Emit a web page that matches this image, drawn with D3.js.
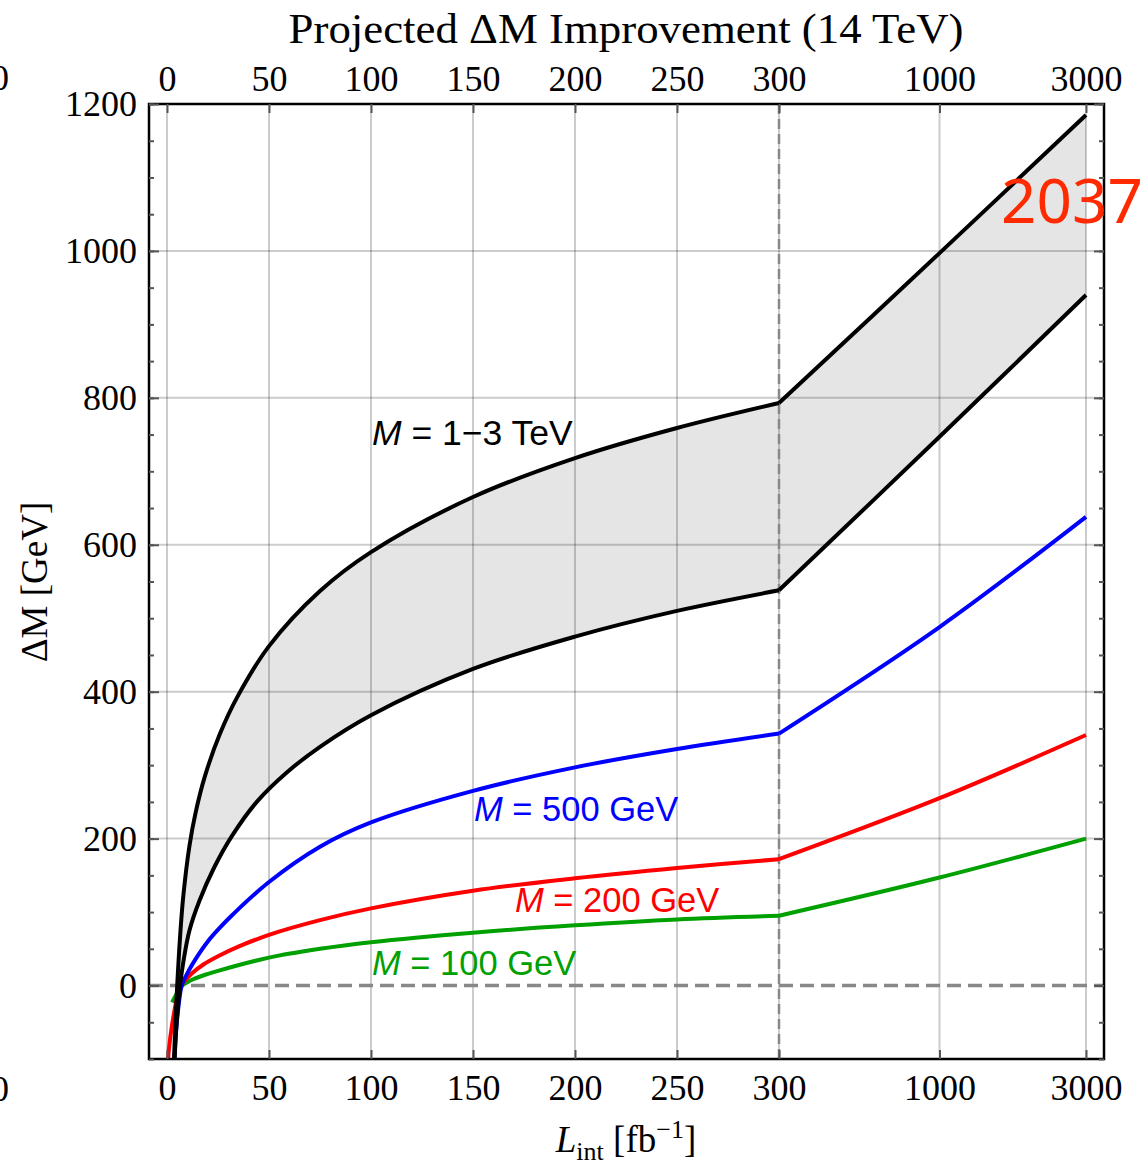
<!DOCTYPE html>
<html>
<head>
<meta charset="utf-8">
<script src="https://cdn.jsdelivr.net/npm/d3@7"></script>
<style>
  body { margin: 0; background: #fff; }
  svg { display: block; }
  .serif { font-family: "Liberation Serif", "Times New Roman", serif; }
  .sans { font-family: "Liberation Sans", Arial, sans-serif; }
</style>
</head>
<body>
<svg id="chart" width="1143" height="1168"></svg>
<script>
// tick labels
const linTicks = [0, 50, 100, 150, 200, 250, 300];
const logTicks = [1000, 3000];
const yTicks = [0, 200, 400, 600, 800, 1000, 1200];
const yMinorTicks = d3.range(-100, 1201, 50);

// [L_int, deltaM] for the 0-300 part
const upper13 = [[3.3, -110], [4, -60], [5, 0], [6.5, 70], [8, 122], [11, 190], [14, 235], [18.6, 285], [26, 343], [34.5, 393], [50, 462], [75, 537], [100, 590], [150, 665], [200, 718], [250, 759], [300, 793]];
const lower13 = [[3.6, -110], [4.5, -60], [6.4, 0], [8, 32], [11, 75], [16, 116], [23, 160], [31.7, 203], [44, 250], [58.7, 290], [75, 325], [100, 368], [150, 431], [200, 475], [250, 510], [300, 538]];
const m500 = [[3.5, -110], [4.5, -60], [6.5, -10], [7.2, 0], [10, 17], [14, 36], [20, 60], [25, 76], [32, 96], [50, 141], [75, 189], [100, 222], [150, 265], [200, 297], [250, 322], [300, 343]];
const m200 = [[0.3, -110], [1, -85], [2.4, -55], [4.7, -20], [7, 0], [12, 16], [18, 29], [25, 40], [35, 53], [50, 69], [75, 89], [100, 105], [150, 129], [200, 146], [250, 160], [300, 172]];
const m100 = [[2.5, -23], [4, -15], [6, -5], [8, 1], [10, 4.5], [12, 7.5], [18, 14], [25, 20], [50, 38], [75, 50], [100, 59], [150, 72], [200, 82], [250, 90], [300, 95]];

// 300-3000 part (log axis)
const logL = [300, 1000, 3000];
const upper13Log = [793, 997, 1185];
const lower13Log = [538, 747, 940];
const m500Log = [343, 488, 638];
const m200Log = [172, 255, 341];
const m100Log = [95, 147, 200];

const svg = d3.select('#chart');
const frame = { left: 149, right: 1104, top: 104, bottom: 1059 };

const xLin = d3.scaleLinear().domain([0, 300]).range([167, 779]);
const xLog = d3.scaleLog().domain([300, 3000]).range([779, 1086]);
const x = (L) => (L <= 300 ? xLin(L) : xLog(L));
const y = d3.scaleLinear().domain([-100, 1200]).range([frame.bottom, frame.top]);

const line = d3.line()
  .x((d) => x(d[0]))
  .y((d) => y(d[1]))
  .curve(d3.curveCatmullRom.alpha(0.5));

const logPts = (vals) => logL.map((L, i) => [L, vals[i]]);

svg.append('clipPath').attr('id', 'plot-clip')
  .append('rect')
  .attr('x', frame.left).attr('y', frame.top)
  .attr('width', frame.right - frame.left).attr('height', frame.bottom - frame.top);

const plot = svg.append('g').attr('clip-path', 'url(#plot-clip)');

// grid
const grid = plot.append('g').attr('stroke', '#000').attr('stroke-opacity', 0.2).attr('stroke-width', 2);
linTicks.filter((t) => t !== 300).concat(logTicks).forEach((t) => {
  grid.append('line').attr('x1', x(t)).attr('x2', x(t)).attr('y1', frame.top).attr('y2', frame.bottom);
});
yTicks.filter((t) => t !== 0).forEach((t) => {
  grid.append('line').attr('x1', frame.left).attr('x2', frame.right).attr('y1', y(t)).attr('y2', y(t));
});
grid.append('line').attr('x1', x(300)).attr('x2', x(300)).attr('y1', frame.top).attr('y2', frame.bottom);

// grey band between the two M = 1-3 TeV curves
let bandD = line(upper13) + line(logPts(upper13Log)).replace(/^M/, 'L')
  + line(logPts(lower13Log).reverse()).replace(/^M/, 'L')
  + line(lower13.slice().reverse()).replace(/^M/, 'L') + 'Z';
plot.append('path').attr('d', bandD).attr('fill', '#000').attr('fill-opacity', 0.1).attr('stroke', 'none');

// dashed reference lines
plot.append('line')
  .attr('x1', frame.left).attr('x2', frame.right).attr('y1', y(0)).attr('y2', y(0))
  .attr('stroke', '#888').attr('stroke-width', 3.5).attr('stroke-dasharray', '14,7');
plot.append('line')
  .attr('x1', x(300)).attr('x2', x(300)).attr('y1', frame.top).attr('y2', frame.bottom)
  .attr('stroke', '#888').attr('stroke-width', 2.5).attr('stroke-dasharray', '10,5');

// curves
const series = [
  { lin: m100, log: m100Log, color: '#00a000' },
  { lin: m200, log: m200Log, color: '#ff0000' },
  { lin: m500, log: m500Log, color: '#0000ff' },
  { lin: lower13, log: lower13Log, color: '#000' },
  { lin: upper13, log: upper13Log, color: '#000' },
];
series.forEach((s) => {
  [s.lin, logPts(s.log)].forEach((pts) => {
    plot.append('path')
      .attr('d', line(pts))
      .attr('fill', 'none')
      .attr('stroke', s.color)
      .attr('stroke-width', 4)
      .attr('stroke-linejoin', 'round');
  });
});

// frame
svg.append('rect')
  .attr('x', frame.left).attr('y', frame.top)
  .attr('width', frame.right - frame.left).attr('height', frame.bottom - frame.top)
  .attr('fill', 'none').attr('stroke', '#000').attr('stroke-width', 2.5);

// axes
function styleAxis(g) {
  g.select('.domain').remove();
  g.selectAll('.tick line').attr('stroke', '#555').attr('stroke-width', 2);
  g.selectAll('.tick text').attr('class', 'serif').attr('font-size', 36).attr('fill', '#000');
}

const fmt = d3.format('d');
[[d3.axisBottom, frame.bottom, 15], [d3.axisTop, frame.top, 13]].forEach(([ax, pos, pad]) => {
  svg.append('g').attr('transform', `translate(0,${pos})`)
    .call(ax(xLin).tickValues(linTicks).tickFormat(fmt).tickSize(-9).tickPadding(pad))
    .call(styleAxis);
  svg.append('g').attr('transform', `translate(0,${pos})`)
    .call(ax(xLog).tickValues(logTicks).tickFormat(fmt).tickSize(-9).tickPadding(pad))
    .call(styleAxis);
});

svg.append('g').attr('transform', `translate(${frame.left},0)`)
  .call(d3.axisLeft(y).tickValues(yMinorTicks).tickFormat('').tickSize(-5))
  .call(styleAxis);
svg.append('g').attr('transform', `translate(${frame.left},0)`)
  .call(d3.axisLeft(y).tickValues(yTicks).tickFormat(fmt).tickSize(-10).tickPadding(12))
  .call(styleAxis);
svg.append('g').attr('transform', `translate(${frame.right},0)`)
  .call(d3.axisRight(y).tickValues(yMinorTicks).tickFormat('').tickSize(-5))
  .call(styleAxis);
svg.append('g').attr('transform', `translate(${frame.right},0)`)
  .call(d3.axisRight(y).tickValues(yTicks).tickFormat('').tickSize(-10))
  .call(styleAxis);

// bits of the neighbouring panel's labels, cut by the edge
svg.append('text').attr('class', 'serif').attr('font-size', 36)
  .attr('x', 9).attr('y', 90).attr('text-anchor', 'end').text('3000');
svg.append('text').attr('class', 'serif').attr('font-size', 36)
  .attr('x', 9).attr('y', 1101).attr('text-anchor', 'end').text('3000');

// titles
svg.append('text').attr('class', 'serif').attr('font-size', 43)
  .attr('x', 626).attr('y', 43).attr('text-anchor', 'middle')
  .attr('textLength', 675).attr('lengthAdjust', 'spacingAndGlyphs')
  .text('Projected ΔM Improvement (14 TeV)');

svg.append('text').attr('class', 'serif').attr('font-size', 37)
  .attr('transform', 'translate(47,582) rotate(-90)').attr('text-anchor', 'middle')
  .text('ΔM [GeV]');

const xt = svg.append('text').attr('class', 'serif').attr('font-size', 37)
  .attr('x', 626).attr('y', 1152).attr('text-anchor', 'middle');
xt.append('tspan').attr('font-style', 'italic').text('L');
xt.append('tspan').attr('font-size', 26).attr('dy', 8).text('int');
xt.append('tspan').attr('dy', -8).text(' [fb');
xt.append('tspan').attr('font-size', 26).attr('dy', -14).text('−1');
xt.append('tspan').attr('dy', 14).text(']');

// curve labels
const labels = [
  { text: ' = 1−3 TeV', x: 372, y: 445, color: '#000', size: 35.5 },
  { text: ' = 500 GeV', x: 474, y: 821, color: '#0000ff', size: 34.5 },
  { text: ' = 200 GeV', x: 515, y: 912, color: '#ff0000', size: 34.5 },
  { text: ' = 100 GeV', x: 372, y: 975, color: '#00a000', size: 34.5 },
];
labels.forEach((d) => {
  const t = svg.append('text').attr('class', 'sans').attr('font-size', d.size)
    .attr('x', d.x).attr('y', d.y).attr('fill', d.color);
  t.append('tspan').attr('font-style', 'italic').text('M');
  t.append('tspan').text(d.text);
});

// stamp
svg.append('text')
  .attr('x', 1001).attr('y', 223)
  .attr('font-family', '"Noto Sans", sans-serif').attr('font-size', 62)
  .attr('fill', '#ff2a00')
  .text('2037');
</script>
</body>
</html>
